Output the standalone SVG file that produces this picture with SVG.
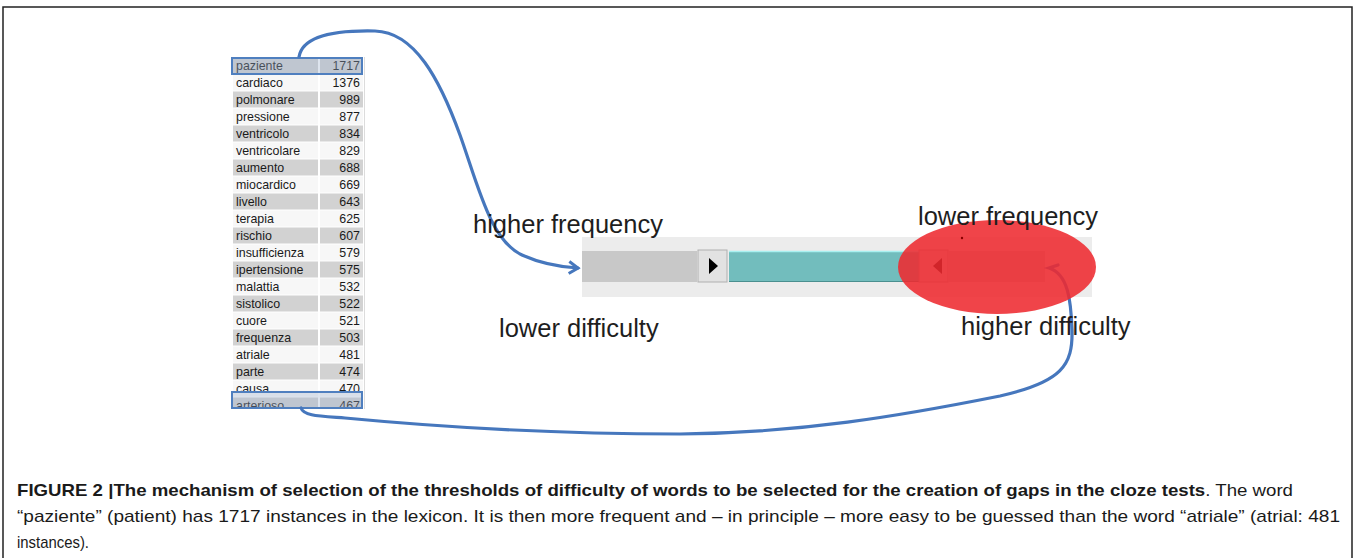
<svg xmlns="http://www.w3.org/2000/svg" width="1356" height="558" viewBox="0 0 1356 558">
<defs>
<style>
.tw{font-family:"Liberation Sans",Arial,sans-serif;font-size:12.4px;fill:#1a1a1a}
.tn{font-family:"Liberation Sans",Arial,sans-serif;font-size:12.4px;fill:#1a1a1a;text-anchor:end}
.sh{fill:#d2d2d2}
.lt{fill:#f7f7f7}
.lbl{font-family:"Liberation Sans",Arial,sans-serif;font-size:25.5px;fill:#1e1e1e}
.cap{font-family:"Liberation Sans",Arial,sans-serif;font-size:17px;fill:#1a1a1a}
.conn{fill:none;stroke:#4677bd;stroke-width:3.2;stroke-linecap:round}
.hl{fill:#9fb3cf;fill-opacity:0.35;stroke:#4f7fbf;stroke-width:2}
</style>
<marker id="arr" markerUnits="userSpaceOnUse" markerWidth="16" markerHeight="16" refX="13" refY="8" orient="auto">
<path d="M4,2 L13,8 L4,14" fill="none" stroke="#4677bd" stroke-width="3"/>
</marker>
<clipPath id="tclip"><rect x="230" y="55" width="140" height="354"/></clipPath>
</defs>
<rect width="1356" height="558" fill="#fff"/>
<path d="M3,560 L3,7 L1352,7 L1352,560" fill="none" stroke="#222" stroke-width="1.5"/>

<g id="table" clip-path="url(#tclip)">
<rect x="231" y="57" width="134" height="360" fill="#ffffff"/>
<line x1="364.5" y1="57" x2="364.5" y2="409" stroke="#dcdcdc"/>
<g transform="translate(0,57)"><rect class="sh" x="233" y="0.5" width="85" height="16"/><rect class="sh" x="320" y="0.5" width="43" height="16"/><text class="tw" x="236" y="12.8">paziente</text><text class="tn" x="360" y="12.8">1717</text></g>
<g transform="translate(0,74)"><rect class="lt" x="233" y="0.5" width="85" height="16"/><rect class="lt" x="320" y="0.5" width="43" height="16"/><text class="tw" x="236" y="12.8">cardiaco</text><text class="tn" x="360" y="12.8">1376</text></g>
<g transform="translate(0,91)"><rect class="sh" x="233" y="0.5" width="85" height="16"/><rect class="sh" x="320" y="0.5" width="43" height="16"/><text class="tw" x="236" y="12.8">polmonare</text><text class="tn" x="360" y="12.8">989</text></g>
<g transform="translate(0,108)"><rect class="lt" x="233" y="0.5" width="85" height="16"/><rect class="lt" x="320" y="0.5" width="43" height="16"/><text class="tw" x="236" y="12.8">pressione</text><text class="tn" x="360" y="12.8">877</text></g>
<g transform="translate(0,125)"><rect class="sh" x="233" y="0.5" width="85" height="16"/><rect class="sh" x="320" y="0.5" width="43" height="16"/><text class="tw" x="236" y="12.8">ventricolo</text><text class="tn" x="360" y="12.8">834</text></g>
<g transform="translate(0,142)"><rect class="lt" x="233" y="0.5" width="85" height="16"/><rect class="lt" x="320" y="0.5" width="43" height="16"/><text class="tw" x="236" y="12.8">ventricolare</text><text class="tn" x="360" y="12.8">829</text></g>
<g transform="translate(0,159)"><rect class="sh" x="233" y="0.5" width="85" height="16"/><rect class="sh" x="320" y="0.5" width="43" height="16"/><text class="tw" x="236" y="12.8">aumento</text><text class="tn" x="360" y="12.8">688</text></g>
<g transform="translate(0,176)"><rect class="lt" x="233" y="0.5" width="85" height="16"/><rect class="lt" x="320" y="0.5" width="43" height="16"/><text class="tw" x="236" y="12.8">miocardico</text><text class="tn" x="360" y="12.8">669</text></g>
<g transform="translate(0,193)"><rect class="sh" x="233" y="0.5" width="85" height="16"/><rect class="sh" x="320" y="0.5" width="43" height="16"/><text class="tw" x="236" y="12.8">livello</text><text class="tn" x="360" y="12.8">643</text></g>
<g transform="translate(0,210)"><rect class="lt" x="233" y="0.5" width="85" height="16"/><rect class="lt" x="320" y="0.5" width="43" height="16"/><text class="tw" x="236" y="12.8">terapia</text><text class="tn" x="360" y="12.8">625</text></g>
<g transform="translate(0,227)"><rect class="sh" x="233" y="0.5" width="85" height="16"/><rect class="sh" x="320" y="0.5" width="43" height="16"/><text class="tw" x="236" y="12.8">rischio</text><text class="tn" x="360" y="12.8">607</text></g>
<g transform="translate(0,244)"><rect class="lt" x="233" y="0.5" width="85" height="16"/><rect class="lt" x="320" y="0.5" width="43" height="16"/><text class="tw" x="236" y="12.8">insufficienza</text><text class="tn" x="360" y="12.8">579</text></g>
<g transform="translate(0,261)"><rect class="sh" x="233" y="0.5" width="85" height="16"/><rect class="sh" x="320" y="0.5" width="43" height="16"/><text class="tw" x="236" y="12.8">ipertensione</text><text class="tn" x="360" y="12.8">575</text></g>
<g transform="translate(0,278)"><rect class="lt" x="233" y="0.5" width="85" height="16"/><rect class="lt" x="320" y="0.5" width="43" height="16"/><text class="tw" x="236" y="12.8">malattia</text><text class="tn" x="360" y="12.8">532</text></g>
<g transform="translate(0,295)"><rect class="sh" x="233" y="0.5" width="85" height="16"/><rect class="sh" x="320" y="0.5" width="43" height="16"/><text class="tw" x="236" y="12.8">sistolico</text><text class="tn" x="360" y="12.8">522</text></g>
<g transform="translate(0,312)"><rect class="lt" x="233" y="0.5" width="85" height="16"/><rect class="lt" x="320" y="0.5" width="43" height="16"/><text class="tw" x="236" y="12.8">cuore</text><text class="tn" x="360" y="12.8">521</text></g>
<g transform="translate(0,329)"><rect class="sh" x="233" y="0.5" width="85" height="16"/><rect class="sh" x="320" y="0.5" width="43" height="16"/><text class="tw" x="236" y="12.8">frequenza</text><text class="tn" x="360" y="12.8">503</text></g>
<g transform="translate(0,346)"><rect class="lt" x="233" y="0.5" width="85" height="16"/><rect class="lt" x="320" y="0.5" width="43" height="16"/><text class="tw" x="236" y="12.8">atriale</text><text class="tn" x="360" y="12.8">481</text></g>
<g transform="translate(0,363)"><rect class="sh" x="233" y="0.5" width="85" height="16"/><rect class="sh" x="320" y="0.5" width="43" height="16"/><text class="tw" x="236" y="12.8">parte</text><text class="tn" x="360" y="12.8">474</text></g>
<g transform="translate(0,380)"><rect class="lt" x="233" y="0.5" width="85" height="16"/><rect class="lt" x="320" y="0.5" width="43" height="16"/><text class="tw" x="236" y="12.8">causa</text><text class="tn" x="360" y="12.8">470</text></g>
<g transform="translate(0,397)"><rect class="sh" x="233" y="0.5" width="85" height="16"/><rect class="sh" x="320" y="0.5" width="43" height="16"/><text class="tw" x="236" y="12.8">arterioso</text><text class="tn" x="360" y="12.8">467</text></g>
</g>

<g id="highlight-paziente"><rect class="hl" x="232" y="58" width="130" height="16"/></g>
<g id="highlight-arterioso"><rect class="hl" x="232" y="392" width="130" height="16"/></g>

<g id="slider">
<rect x="582" y="237" width="510" height="60" fill="#ececec"/>
<rect x="582" y="251" width="115" height="31" fill="#c8c8c8"/>
<rect x="698" y="250" width="29" height="32" fill="#e2e2e2" stroke="#b0b0b0" stroke-width="1"/>
<path d="M709,258 L718,266 L709,274 Z" fill="#000"/>
<rect x="729" y="251" width="190" height="31" fill="#72bdbd"/>
<line x1="729" y1="251.5" x2="919" y2="251.5" stroke="#a8f0f0" stroke-width="1.5"/>
<line x1="729" y1="281.5" x2="919" y2="281.5" stroke="#4a8f8f" stroke-width="1"/>
<rect x="919" y="250" width="29" height="32" fill="#d8d8d8" stroke="#b0b0b0" stroke-width="1"/>
<path d="M942,258 L933,266 L942,274 Z" fill="#000"/>
<rect x="948" y="251" width="97" height="31" fill="#c8c8c8"/>
</g>

<g id="connectors">
<path class="conn" d="M299,57 C302,38 330,30 375,31 C415,32 440,80 460,135 C478,185 490,240 522,255 C542,264 560,267 578,268" marker-end="url(#arr)"/>
<path class="conn" d="M301,408 C304,416 318,416 345,418 C450,428 560,434 680,434 C800,433 900,416 1000,396 C1062,382 1073,365 1072,330 C1071,300 1068,274 1049,268 L1058,265"/>
</g>

<g id="red-ellipse">
<ellipse cx="997" cy="267" rx="99" ry="47" fill="#ee2a30" fill-opacity="0.88"/>
<circle cx="962" cy="238" r="1.2" fill="#8a0000"/>
</g>

<g id="label-higher-frequency"><text class="lbl" x="473" y="233">higher frequency</text></g>
<g id="label-lower-frequency"><text class="lbl" x="918" y="225">lower frequency</text></g>
<g id="label-lower-difficulty"><text class="lbl" x="499" y="337">lower difficulty</text></g>
<g id="label-higher-difficulty"><text class="lbl" x="961" y="335">higher difficulty</text></g>

<g id="caption">
<text class="cap" x="17" y="496" textLength="1276" lengthAdjust="spacingAndGlyphs"><tspan font-weight="bold">FIGURE 2 |The mechanism of selection of the thresholds of difficulty of words to be selected for the creation of gaps in the cloze tests</tspan>. The word</text>
<text class="cap" x="17" y="522" textLength="1323" lengthAdjust="spacingAndGlyphs">“paziente” (patient) has 1717 instances in the lexicon. It is then more frequent and – in principle – more easy to be guessed than the word “atriale” (atrial: 481</text>
<text class="cap" x="17" y="548" textLength="72" lengthAdjust="spacingAndGlyphs">instances).</text>
</g>
</svg>
